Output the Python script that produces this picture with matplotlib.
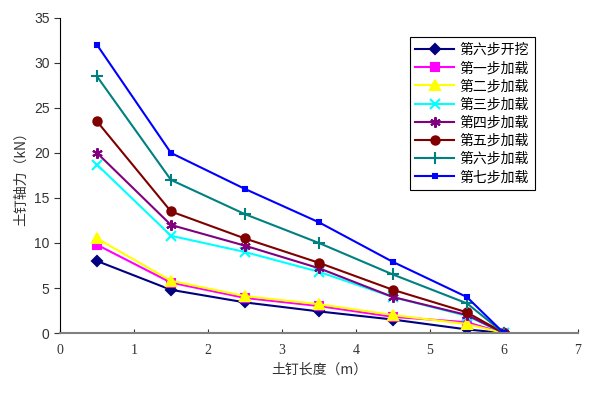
import matplotlib
matplotlib.use('Agg')
import matplotlib.pyplot as plt

plt.rcParams['font.family'] = ['Liberation Sans', 'Noto Sans CJK SC', 'DejaVu Sans']

# 土钉长度
x = [0.5, 1.5, 2.5, 3.5, 4.5, 5.5, 6]
# 各工况轴力
kaiwa = [8.0, 4.8, 3.4, 2.4, 1.5, 0.4, 0]
step1 = [9.8, 5.6, 3.9, 3.0, 1.8, 1.2, 0]
step2 = [10.5, 5.8, 4.1, 3.2, 2.0, 1.0, 0]
step3 = [18.7, 10.8, 9.0, 6.8, 4.0, 1.9, 0]
step4 = [20.0, 12.0, 9.7, 7.2, 4.0, 2.0, 0]
step5 = [23.5, 13.5, 10.5, 7.8, 4.8, 2.3, 0]
step6 = [28.5, 17.0, 13.2, 10.0, 6.5, 3.3, 0]
step7 = [32.0, 20.0, 16.0, 12.3, 7.9, 4.0, 0]

names = ['第六步开挖', '第一步加载', '第二步加载', '第三步加载',
         '第四步加载', '第五步加载', '第六步加载', '第七步加载']
colors = ['#000080', '#FF00FF', '#FFFF00', '#00FFFF',
          '#800080', '#800000', '#008080', '#0000FF']
markers = ['D', 's', '^', 'x', (6, 2, 0), 'o', '+', 's']
msizes = [5.5, 5.5, 6.5, 6.5, 7.5, 6, 8.5, 3.5]

fig = plt.figure(figsize=(6, 3.96), dpi=100)
ax = fig.add_axes([0.1, 0.159, 0.863, 0.796])

series = [kaiwa, step1, step2, step3, step4, step5, step6, step7]
for y, n, c, m, s in zip(series, names, colors, markers, msizes):
    ax.plot(x, y, color=c, marker=m, markersize=s, linewidth=1.5,
            markeredgewidth=1.5, label=n)

ax.set_xlim(0, 7)
ax.set_ylim(0, 35)
ax.set_xticks(range(0, 8))
ax.set_yticks(range(0, 36, 5))
ax.spines['top'].set_visible(False)
ax.spines['right'].set_visible(False)
ax.spines['left'].set_color('black')
ax.spines['bottom'].set_color('#808080')
ax.spines['bottom'].set_linewidth(1.5)
ax.tick_params(axis='y', direction='out', length=4, labelsize=10, colors='#333333')
ax.tick_params(axis='x', direction='in', length=3, labelsize=10, colors='#333333', pad=8)
for t in ax.get_xticklabels():
    t.set_family(['Liberation Serif', 'DejaVu Serif'])

ax.set_xlabel('土钉长度（m）', fontsize=10, family=['Noto Sans CJK SC', 'DejaVu Sans'], color='#333333')
ax.set_ylabel('土钉轴力（kN）', fontsize=10, family=['Noto Sans CJK SC', 'DejaVu Sans'], color='#333333')

leg = ax.legend(loc='upper left', bbox_to_anchor=(0.662, 0.96), fancybox=False,
                framealpha=1, edgecolor='black',
                prop={'family': ['Noto Sans CJK SC', 'DejaVu Sans'], 'size': 10},
                handlelength=2.8, labelspacing=0.3, borderpad=0.4, handletextpad=0.4)
leg.get_frame().set_linewidth(0.8)

fig.savefig('out.png', dpi=100)
